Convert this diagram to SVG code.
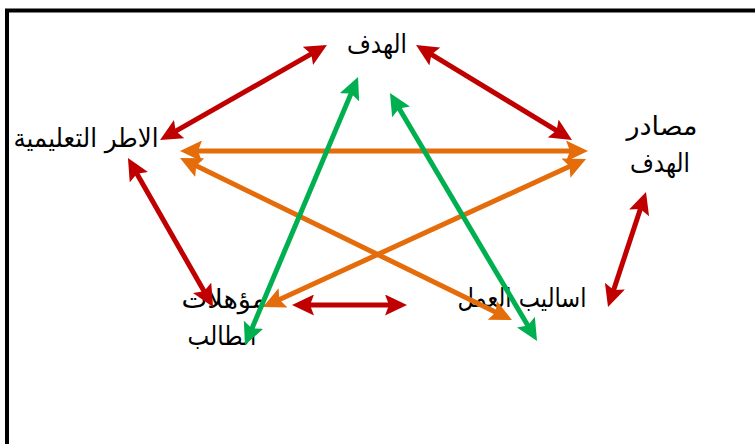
<svg xmlns="http://www.w3.org/2000/svg" width="755" height="444" viewBox="0 0 755 444">
<style>
.lbl{font-family:"DejaVu Sans","Noto Sans",sans-serif;font-size:26px;fill:#000;text-anchor:middle}
.c{stroke-width:5;fill:none}
.r{stroke:#C00000;marker-start:url(#mr);marker-end:url(#mr)}
.o{stroke:#E46C0A;marker-start:url(#mo);marker-end:url(#mo)}
.g{stroke:#00B050;marker-start:url(#mg);marker-end:url(#mg)}
</style>
<defs>
<marker id="mr" markerUnits="userSpaceOnUse" markerWidth="22" markerHeight="21" refX="8" refY="10.5" orient="auto-start-reverse" viewBox="0 0 22 21"><path d="M0,0 L22,10.5 L0,21 L4,10.5 z" fill="#C00000"/></marker>
<marker id="mo" markerUnits="userSpaceOnUse" markerWidth="22" markerHeight="21" refX="8" refY="10.5" orient="auto-start-reverse" viewBox="0 0 22 21"><path d="M0,0 L22,10.5 L0,21 L4,10.5 z" fill="#E46C0A"/></marker>
<marker id="mg" markerUnits="userSpaceOnUse" markerWidth="22" markerHeight="21" refX="8" refY="10.5" orient="auto-start-reverse" viewBox="0 0 22 21"><path d="M0,0 L22,10.5 L0,21 L4,10.5 z" fill="#00B050"/></marker>
</defs>
<rect x="0" y="0" width="755" height="444" fill="#fff"/>
<rect x="7" y="10.5" width="800" height="500" fill="none" stroke="#000" stroke-width="4"/>
<g id="n-goal"><text class="lbl" x="377" y="53" textLength="60" lengthAdjust="spacingAndGlyphs">الهدف</text></g>
<g id="n-frames"><text class="lbl" x="86" y="147" textLength="145" lengthAdjust="spacingAndGlyphs">الاطر التعليمية</text></g>
<g id="n-sources"><text class="lbl" x="662" y="135" textLength="71" lengthAdjust="spacingAndGlyphs">مصادر</text><text class="lbl" x="660" y="172" textLength="60" lengthAdjust="spacingAndGlyphs">الهدف</text></g>
<g id="n-student"><text class="lbl" x="224" y="308" textLength="85" lengthAdjust="spacingAndGlyphs">مؤهلات</text><text class="lbl" x="222" y="345" textLength="69" lengthAdjust="spacingAndGlyphs">الطالب</text></g>
<g id="n-methods"><text class="lbl" x="522" y="307" textLength="129" lengthAdjust="spacingAndGlyphs">اساليب العمل</text></g>
<g id="connectors">
<line class="c r" x1="172.2" y1="133.1" x2="314.8" y2="51.9"/>
<line class="c r" x1="428" y1="52.3" x2="560" y2="132.7"/>
<line class="c r" x1="134.9" y1="170.2" x2="206.1" y2="294.8"/>
<line class="c r" x1="306" y1="305" x2="393" y2="305"/>
<line class="c r" x1="612.4" y1="293.7" x2="641.6" y2="205.3"/>
<line class="c o" x1="194" y1="151" x2="574" y2="151"/>
<line class="c o" x1="192.6" y1="164.1" x2="499.4" y2="313.9"/>
<line class="c o" x1="275.7" y1="301.2" x2="573.3" y2="164.8"/>
<line class="c g" x1="250.4" y1="332.1" x2="352.6" y2="89.9"/>
<line class="c g" x1="397.1" y1="105" x2="529.9" y2="329"/>
</g>
</svg>
